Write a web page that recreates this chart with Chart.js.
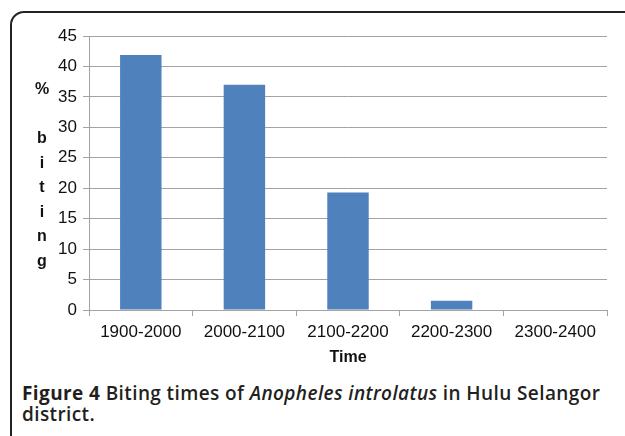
<!DOCTYPE html>
<html lang="en">
<head>
    <meta charset="UTF-8">
    <title>Biting times</title>
    <style>
        body {
            margin: 0;
            padding: 0;
            background: #ffffff;
            width: 625px;
            height: 436px;
            overflow: hidden;
            position: relative;
        }

        .frame {
            position: absolute;
            left: 10px;
            top: 11px;
            width: 700px;
            height: 500px;
            border: 2px solid #222;
            border-top-left-radius: 14px;
        }

        .chart-box {
            position: absolute;
            left: 0;
            top: 0;
            width: 625px;
            height: 370px;
        }

        .y-title {
            position: absolute;
            left: 32px;
            top: 77px;
            width: 20px;
            text-align: center;
            font-family: 'Liberation Sans', Arial, sans-serif;
            font-weight: bold;
            font-size: 16px;
            line-height: 24.5px;
            color: #111;
        }

        .caption {
            position: absolute;
            left: 22px;
            top: 383px;
            width: 590px;
            font-family: 'Open Sans', Lato, sans-serif;
            font-weight: 600;
            font-size: 19px;
            letter-spacing: 0.4px;
            line-height: 21px;
            color: #231f20;
        }

        .caption b {
            font-weight: 700;
        }
    </style>
    <script src="https://cdn.jsdelivr.net/npm/chart.js"></script>
</head>
<body>
    <div class="frame"></div>
    <div class="chart-box">
        <canvas id="bitingChart"></canvas>
    </div>
    <div class="y-title" id="yTitle"></div>
    <div class="caption"><b>Figure 4</b> Biting times of <i>Anopheles introlatus</i> in Hulu Selangor district.</div>
    <script>
        const timeSlots = ['1900-2000', '2000-2100', '2100-2200', '2200-2300', '2300-2400'];
        const bitingPercent = [41.9, 37.0, 19.3, 1.5, 0];
        const yTitleLines = ['%', '', 'b', 'i', 't', 'i', 'n', 'g'];
        const xTitle = 'Time';

        // stacked letters for the y axis title
        document.getElementById('yTitle').innerHTML = yTitleLines.map(c => c || '&nbsp;').join('<br>');

        const axisFont = { family: "'Liberation Sans', Arial, sans-serif", size: 17 };
        const gridColor = '#a3a3a3';

        const ctx = document.getElementById('bitingChart').getContext('2d');
        new Chart(ctx, {
            type: 'bar',
            data: {
                labels: timeSlots,
                datasets: [{
                    label: '% biting',
                    data: bitingPercent,
                    backgroundColor: '#4f81bd',
                    borderWidth: 0,
                    barPercentage: 0.4,
                    categoryPercentage: 1.0
                }]
            },
            options: {
                responsive: true,
                maintainAspectRatio: false,
                animation: false,
                layout: {
                    padding: { top: 36, right: 18, left: 0, bottom: 0 }
                },
                plugins: {
                    legend: { display: false },
                    tooltip: { enabled: false }
                },
                scales: {
                    x: {
                        offset: true,
                        grid: {
                            offset: true,
                            drawOnChartArea: false,
                            tickLength: 6,
                            color: gridColor
                        },
                        border: { color: gridColor },
                        ticks: {
                            font: axisFont,
                            color: '#111',
                            padding: 6,
                            maxRotation: 0
                        },
                        title: {
                            display: true,
                            text: xTitle,
                            font: { family: axisFont.family, size: 16, weight: 'bold' },
                            color: '#111',
                            padding: { top: 0, bottom: 3 }
                        },
                        afterFit: scale => { scale.height = 60; }
                    },
                    y: {
                        min: 0,
                        max: 45,
                        ticks: {
                            stepSize: 5,
                            font: axisFont,
                            color: '#111',
                            padding: 6
                        },
                        grid: {
                            color: gridColor,
                            tickLength: 6
                        },
                        border: { color: gridColor },
                        afterFit: scale => { scale.width = 89; }
                    }
                }
            }
        });
    </script>
</body>
</html>
